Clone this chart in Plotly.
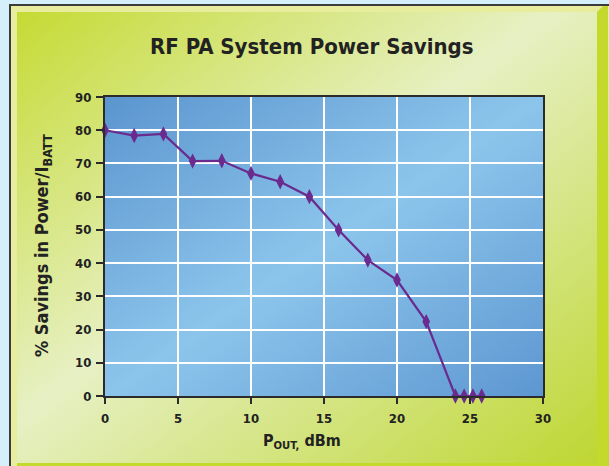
import base64
import plotly.graph_objects as go

# ---- data ----
pout_dbm = [0, 2, 4, 6, 8, 10, 12, 14, 16, 18, 20, 22, 24, 24.6, 25.2, 25.8]
savings_pct = [80, 78.4, 78.9, 70.7, 70.8, 67.0, 64.5, 60.0, 50.0, 40.9, 34.9, 22.4, 0, 0, 0, 0]
x_ticks = [0, 5, 10, 15, 20, 25, 30]
y_ticks = [0, 10, 20, 30, 40, 50, 60, 70, 80, 90]
title_text = "RF PA System Power Savings"
x_title = "P<sub>OUT,</sub> dBm"
y_title = "% Savings in Power/I<sub>BATT</sub>"

W, H = 609, 466
L, R, T, B = 105, 543, 97, 396
pw, ph = R - L, B - T

svg = f'''<svg xmlns="http://www.w3.org/2000/svg" width="{W}" height="{H}" viewBox="0 0 {W} {H}" preserveAspectRatio="none">
<defs>
<linearGradient id="g" x1="0" y1="0" x2="1" y2="1">
<stop offset="0" stop-color="#c4da30"/>
<stop offset="0.45" stop-color="#e7f0c4"/>
<stop offset="1" stop-color="#bcd52a"/>
</linearGradient>
<linearGradient id="b" x1="0" y1="0" x2="1" y2="1">
<stop offset="0" stop-color="#5b95cf"/>
<stop offset="0.5" stop-color="#8cc5eb"/>
<stop offset="1" stop-color="#5d97d1"/>
</linearGradient>
</defs>
<rect x="0" y="0" width="{W}" height="{H}" fill="#d5effb"/>
<rect x="9" y="4" width="{W}" height="{H}" fill="#3c3c3c"/>
<rect x="11" y="6" width="{W}" height="{H}" fill="url(#g)"/>
<polygon points="11,6 603,6 597,12 17,12 17,{H} 11,{H}" fill="#e8ed9e"/>
<polygon points="597,12 603,6 608,6 608,{H} 597,{H}" fill="#c3d92c"/>
<rect x="17" y="{H-3}" width="580" height="3" fill="#c3d92c"/>
<rect x="{L}" y="{T}" width="{pw}" height="{ph}" fill="url(#b)"/>
</svg>'''
src = "data:image/svg+xml;base64," + base64.b64encode(svg.encode()).decode()

fig = go.Figure()
fig.add_trace(go.Scatter(
    x=pout_dbm, y=savings_pct, mode="lines+markers",
    line=dict(color="#6a2a8e", width=2.2),
    marker=dict(symbol="diamond-tall", size=11, color="#6a2a8e"),
    cliponaxis=False, showlegend=False,
))

font_fam = "DejaVu Sans Condensed, Liberation Sans Narrow, sans-serif"
fig.update_layout(
    width=W, height=H,
    margin=dict(l=L, r=W - R, t=T, b=H - B, pad=0),
    paper_bgcolor="#d5effb",
    plot_bgcolor="rgba(0,0,0,0)",
    font=dict(family=font_fam, color="#222222"),
    images=[dict(
        source=src, xref="paper", yref="paper",
        x=-L / pw, y=1 + T / ph, sizex=W / pw, sizey=H / ph,
        xanchor="left", yanchor="top", sizing="stretch", layer="below",
    )],
    annotations=[
        dict(text=title_text, xref="paper", yref="paper",
             x=(311 - L) / pw, y=(B - 47) / ph, xanchor="center", yanchor="middle",
             showarrow=False, font=dict(size=22, weight="bold", family=font_fam, color="#222222")),
        dict(text=x_title, xref="paper", yref="paper",
             x=(302 - L) / pw, y=(B - 442) / ph, xanchor="center", yanchor="middle",
             showarrow=False, font=dict(size=16, weight="bold", family=font_fam, color="#222222")),
        dict(text=y_title, xref="paper", yref="paper", textangle=-90,
             x=(43 - L) / pw, y=(B - 246) / ph, xanchor="center", yanchor="middle",
             showarrow=False, font=dict(size=18, weight="bold", family=font_fam, color="#222222")),
    ],
)
fig.update_xaxes(
    range=[0, 30], tickvals=x_ticks, ticktext=[str(v) for v in x_ticks],
    showgrid=True, gridcolor="white", gridwidth=2, zeroline=False,
    showline=True, linecolor="#2b2b2b", linewidth=2, mirror=True,
    ticks="outside", ticklen=6, tickwidth=2, tickcolor="#2b2b2b",
    tickfont=dict(size=13, weight="bold", family=font_fam, color="#222222"),
    ticklabelstandoff=3,
)
fig.update_yaxes(
    range=[0, 90], tickvals=y_ticks, ticktext=[str(v) for v in y_ticks],
    showgrid=True, gridcolor="white", gridwidth=2, zeroline=False,
    showline=True, linecolor="#2b2b2b", linewidth=2, mirror=True,
    ticks="outside", ticklen=7, tickwidth=2, tickcolor="#2b2b2b",
    tickfont=dict(size=13, weight="bold", family=font_fam, color="#222222"),
    ticklabelstandoff=2,
)
fig.write_html(
    "out.html",
    config={"displayModeBar": False},
    post_script="document.body.style.margin='0';document.body.style.overflow='hidden';",
)
